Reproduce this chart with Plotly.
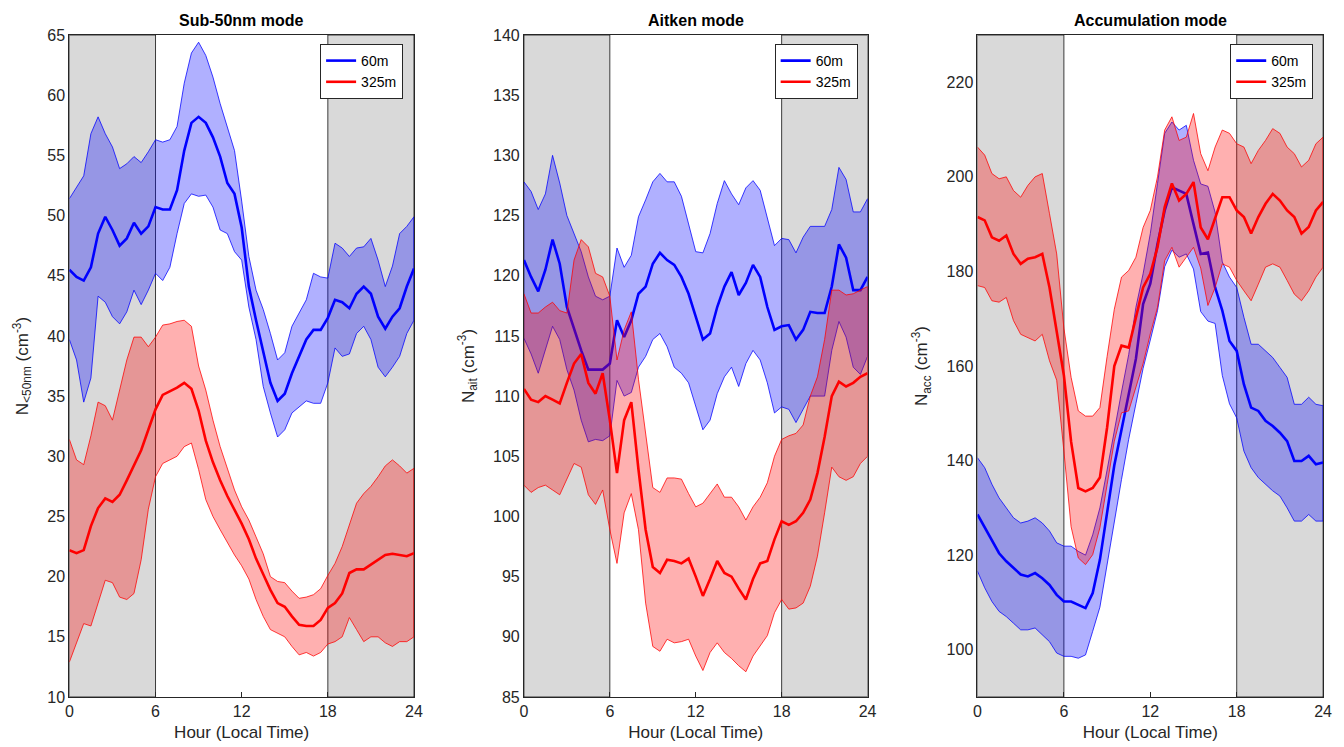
import plotly.graph_objects as go

# Local hour of day, half-hourly
HOURS = [0.0, 0.5, 1.0, 1.5, 2.0, 2.5, 3.0, 3.5, 4.0, 4.5, 5.0, 5.5,
         6.0, 6.5, 7.0, 7.5, 8.0, 8.5, 9.0, 9.5, 10.0, 10.5, 11.0, 11.5,
         12.0, 12.5, 13.0, 13.5, 14.0, 14.5, 15.0, 15.5, 16.0, 16.5, 17.0, 17.5,
         18.0, 18.5, 19.0, 19.5, 20.0, 20.5, 21.0, 21.5, 22.0, 22.5, 23.0, 23.5, 24.0]

# ---- Sub-50nm mode ----
SUB50_60M_MEAN = [45.5, 44.9, 44.6, 45.7, 48.5, 49.9, 48.8, 47.5, 48.1, 49.4, 48.5, 49.1,
                  50.7, 50.5, 50.5, 52.1, 55.4, 57.7, 58.2, 57.7, 56.5, 54.9, 52.7, 51.8,
                  49.0, 44.1, 41.3, 38.6, 36.1, 34.6, 35.2, 36.9, 38.3, 39.7, 40.5, 40.5,
                  41.5, 43.0, 42.8, 42.3, 43.5, 44.1, 43.5, 41.6, 40.6, 41.6, 42.3, 44.1, 45.6]
SUB50_60M_UPPER = [51.4, 52.4, 53.3, 56.8, 58.2, 56.8, 55.7, 53.9, 54.3, 54.9, 54.4, 55.3,
                   56.3, 56.1, 56.3, 57.4, 61.0, 63.5, 64.4, 63.3, 61.5, 59.3, 57.3, 55.4,
                   51.2, 46.6, 43.8, 42.2, 40.2, 38.0, 38.6, 40.8, 41.9, 43.0, 45.2, 44.9,
                   44.8, 47.7, 47.3, 46.6, 47.3, 47.4, 48.1, 46.3, 44.1, 45.8, 48.5, 49.1, 49.9]
SUB50_60M_LOWER = [39.7, 38.0, 34.5, 36.5, 43.3, 42.8, 41.6, 41.0, 42.0, 43.8, 42.6, 43.8,
                   45.2, 44.6, 45.7, 48.5, 51.0, 51.8, 51.6, 51.7, 50.7, 48.8, 48.5, 47.0,
                   46.3, 42.4, 39.7, 35.8, 33.6, 31.6, 32.2, 33.6, 34.1, 34.6, 34.4, 34.4,
                   36.1, 39.0, 38.3, 38.5, 40.2, 40.8, 39.7, 37.4, 36.6, 37.4, 38.3, 40.2, 41.3]
SUB50_325M_MEAN = [22.2, 21.95, 22.2, 24.2, 25.7, 26.5, 26.2, 26.8, 28.0, 29.3, 30.5, 32.2,
                   33.9, 35.1, 35.4, 35.7, 36.1, 35.6, 33.8, 31.3, 29.5, 28.0, 26.7, 25.6,
                   24.4, 23.1, 21.5, 20.2, 18.9, 17.8, 17.5, 16.7, 16.0, 15.9, 15.9, 16.4,
                   17.4, 17.8, 18.6, 20.3, 20.6, 20.6, 21.0, 21.4, 21.8, 21.9, 21.8, 21.7, 21.95]
SUB50_325M_UPPER = [31.4, 29.7, 29.3, 31.7, 34.5, 34.2, 33.0, 35.5, 38.0, 39.9, 39.9, 39.1,
                    39.9, 40.9, 41.0, 41.2, 41.3, 40.8, 37.5, 35.5, 33.0, 30.8, 28.9, 27.2,
                    25.8, 24.7, 23.3, 21.9, 20.0, 19.6, 19.5, 18.8, 18.2, 18.3, 18.5, 19.0,
                    20.1, 21.1, 22.5, 24.4, 26.1, 26.9, 27.5, 28.3, 29.2, 29.7, 29.2, 28.6, 29.0]
SUB50_325M_LOWER = [12.9, 14.5, 16.1, 15.9, 17.8, 19.7, 19.5, 18.3, 18.1, 18.6, 21.4, 25.6,
                    28.3, 29.4, 29.7, 30.0, 30.8, 31.1, 28.9, 26.4, 25.0, 23.9, 22.8, 21.8,
                    20.9, 19.8, 18.1, 16.7, 15.6, 15.3, 15.0, 14.2, 13.5, 13.7, 13.4, 13.7,
                    14.4, 14.6, 15.0, 16.6, 15.6, 14.6, 15.0, 15.0, 14.5, 14.2, 14.6, 14.6, 15.0]

# ---- Aitken mode ----
AIT_60M_MEAN = [121.3, 119.9, 118.7, 120.5, 123.0, 121.0, 117.4, 115.5, 113.8, 112.2, 112.2, 112.2,
                112.7, 116.3, 114.9, 116.3, 118.5, 119.1, 121.0, 121.9, 121.3, 120.9, 119.9, 118.5,
                116.6, 114.7, 115.2, 117.4, 119.1, 120.3, 118.4, 119.4, 120.9, 119.9, 117.4, 115.5,
                115.8, 115.9, 114.7, 115.5, 117.0, 116.9, 116.9, 119.1, 122.6, 121.5, 118.8, 118.8, 119.9]
AIT_60M_UPPER = [127.8, 127.0, 125.5, 126.8, 130.0, 127.7, 125.0, 123.5, 122.0, 119.9, 118.3, 118.0,
                 118.3, 122.3, 120.7, 121.7, 124.9, 126.3, 127.8, 128.5, 127.8, 127.8, 126.6, 124.3,
                 122.0, 121.9, 123.5, 126.0, 127.9, 126.8, 125.9, 127.3, 127.9, 127.1, 124.9, 122.5,
                 123.1, 123.0, 121.9, 123.2, 124.1, 124.1, 124.1, 125.5, 129.0, 128.0, 125.3, 125.3, 126.4]
AIT_60M_LOWER = [114.8, 113.5, 111.9, 113.8, 115.8, 114.7, 112.2, 110.5, 108.0, 106.2, 106.4, 106.3,
                 106.7, 111.3, 110.0, 110.3, 112.4, 113.3, 114.7, 115.2, 114.1, 112.4, 111.9, 111.1,
                 109.2, 107.2, 108.0, 110.2, 111.6, 112.4, 110.8, 112.7, 113.8, 113.0, 111.1, 108.6,
                 109.1, 108.9, 107.8, 108.9, 110.0, 110.0, 110.0, 113.8, 116.2, 114.9, 112.4, 111.8, 113.3]
AIT_325M_MEAN = [110.6, 109.7, 109.5, 110.0, 109.7, 109.4, 111.1, 112.7, 113.5, 111.1, 110.2, 111.9,
                 108.0, 103.6, 108.0, 109.5, 103.9, 98.9, 95.8, 95.3, 96.4, 96.3, 96.1, 96.5,
                 95.0, 93.4, 94.8, 96.3, 95.3, 95.0, 94.0, 93.1, 94.8, 96.1, 96.3, 98.1,
                 99.6, 99.3, 99.6, 100.3, 101.4, 103.6, 106.6, 110.0, 111.2, 110.8, 111.1, 111.6, 111.9]
AIT_325M_UPPER = [118.5, 116.9, 116.9, 117.4, 117.8, 117.1, 116.9, 121.3, 123.0, 122.4, 120.2, 119.9,
                  118.3, 113.0, 115.5, 117.0, 111.4, 106.7, 102.4, 102.0, 103.2, 103.2, 103.1, 101.9,
                  100.8, 101.1, 101.9, 102.7, 101.6, 101.6, 100.8, 99.7, 100.8, 101.6, 102.8, 105.0,
                  106.4, 106.7, 106.9, 107.6, 110.0, 111.6, 114.7, 118.8, 118.8, 118.4, 118.5, 118.8, 119.1]
AIT_325M_LOWER = [102.6, 102.0, 102.4, 102.6, 102.2, 101.8, 103.1, 104.4, 104.1, 101.8, 101.0, 102.2,
                  98.9, 96.1, 100.3, 101.9, 98.9, 92.8, 89.2, 88.8, 89.8, 89.5, 89.6, 89.8,
                  88.4, 87.2, 88.7, 89.5, 88.7, 88.2, 87.6, 87.1, 88.4, 89.2, 90.1, 92.0,
                  93.1, 92.3, 92.4, 92.8, 94.2, 96.7, 100.3, 104.1, 103.3, 103.0, 103.3, 104.4, 105.0]

# ---- Accumulation mode ----
ACC_60M_MEAN = [128.6, 125.8, 122.9, 120.4, 118.7, 117.2, 115.9, 115.5, 116.2, 115.1, 113.7, 111.6,
                110.2, 110.2, 109.5, 108.8, 112.0, 119.0, 129.0, 139.0, 146.5, 154.0, 161.5, 173.1,
                177.4, 185.8, 192.9, 197.8, 197.1, 196.4, 190.0, 183.7, 184.0, 176.6, 171.7, 165.3,
                163.2, 156.1, 151.2, 150.5, 148.4, 147.3, 145.9, 144.1, 139.9, 139.9, 141.0, 139.2, 139.6]
ACC_60M_UPPER = [140.6, 138.5, 135.0, 132.1, 130.0, 127.9, 126.8, 127.2, 127.9, 126.8, 125.1, 122.6,
                 121.9, 121.9, 120.8, 120.0, 124.3, 130.0, 138.0, 146.5, 154.5, 162.4, 172.4, 179.5,
                 188.0, 198.6, 209.2, 211.6, 209.9, 210.9, 203.5, 198.5, 198.0, 192.5, 182.0, 178.8,
                 176.6, 170.3, 164.6, 164.6, 163.2, 161.8, 159.7, 157.6, 151.9, 151.9, 153.4, 151.9, 151.6]
ACC_60M_LOWER = [116.6, 113.1, 110.2, 108.1, 107.0, 105.6, 104.2, 104.2, 104.6, 103.1, 101.7, 99.3,
                 98.6, 98.6, 98.2, 98.9, 103.9, 109.0, 117.5, 127.0, 136.0, 144.5, 152.0, 159.5,
                 165.5, 171.7, 181.0, 184.5, 183.0, 183.7, 180.5, 171.5, 169.5, 169.0, 158.0, 152.0,
                 149.0, 142.0, 138.5, 136.4, 135.0, 133.6, 132.5, 130.0, 127.2, 127.2, 128.6, 127.2, 127.2]
ACC_325M_MEAN = [191.5, 190.8, 187.2, 186.5, 187.6, 183.7, 181.6, 182.7, 183.0, 183.7, 176.6, 167.5,
                 158.0, 144.0, 134.2, 133.5, 134.2, 136.4, 147.0, 160.0, 164.3, 163.9, 170.3, 176.6,
                 179.5, 185.1, 193.6, 198.6, 195.0, 196.4, 198.9, 189.3, 186.8, 191.5, 195.7, 195.7,
                 192.9, 191.5, 188.0, 191.5, 194.3, 196.4, 195.0, 192.9, 191.5, 188.0, 189.4, 192.9, 194.7]
ACC_325M_UPPER = [206.3, 204.6, 200.7, 199.6, 200.0, 197.1, 195.7, 198.2, 200.0, 200.7, 192.2, 183.7,
                  168.0, 157.6, 150.5, 149.4, 149.4, 151.2, 162.0, 172.0, 178.8, 180.2, 183.0, 189.3,
                  192.9, 200.0, 209.9, 212.7, 207.7, 208.4, 213.4, 204.9, 201.3, 206.3, 209.9, 209.2,
                  207.0, 206.3, 202.8, 205.6, 207.7, 210.2, 209.2, 206.3, 204.9, 202.1, 203.5, 207.0, 208.4]
ACC_325M_LOWER = [177.0, 176.6, 173.8, 173.5, 174.5, 169.6, 166.7, 166.0, 165.3, 166.7, 161.1, 157.0,
                  142.0, 126.0, 119.4, 118.0, 120.1, 125.8, 134.9, 144.1, 150.1, 150.5, 155.4, 160.5,
                  166.8, 172.4, 182.3, 185.1, 180.9, 183.0, 185.1, 180.7, 172.8, 176.6, 181.6, 180.9,
                  178.1, 175.9, 173.8, 177.3, 180.9, 181.6, 180.9, 178.1, 175.2, 173.8, 175.9, 178.8, 180.9]

PANEL_TITLES = ["Sub-50nm mode", "Aitken mode", "Accumulation mode"]
Y_TITLES = ["N<sub>&lt;50nm</sub> (cm<sup>-3</sup>)",
            "N<sub>ait</sub> (cm<sup>-3</sup>)",
            "N<sub>acc</sub> (cm<sup>-3</sup>)"]
Y_RANGES = [[10, 65], [85, 140], [90, 230]]
Y_TICKS = [[10, 15, 20, 25, 30, 35, 40, 45, 50, 55, 60, 65],
           [85, 90, 95, 100, 105, 110, 115, 120, 125, 130, 135, 140],
           [100, 120, 140, 160, 180, 200, 220]]
X_TICKS = [0, 6, 12, 18, 24]
SERIES_NAMES = ["60m", "325m"]
NIGHT_SPANS = [(0, 6), (18, 24)]

PANELS = [
    ((SUB50_60M_MEAN, SUB50_60M_UPPER, SUB50_60M_LOWER),
     (SUB50_325M_MEAN, SUB50_325M_UPPER, SUB50_325M_LOWER)),
    ((AIT_60M_MEAN, AIT_60M_UPPER, AIT_60M_LOWER),
     (AIT_325M_MEAN, AIT_325M_UPPER, AIT_325M_LOWER)),
    ((ACC_60M_MEAN, ACC_60M_UPPER, ACC_60M_LOWER),
     (ACC_325M_MEAN, ACC_325M_UPPER, ACC_325M_LOWER)),
]

W, H = 1344, 747
M_TOP, M_BOT = 35, 50
PLOT_H = H - M_TOP - M_BOT
X_PIX = [(66, 414), (525, 872), (983, 1332)]
LEGEND_RIGHT = [403, 862, 1322]

FONT = "Liberation Sans, Arial, Helvetica, sans-serif"
TXT = "#262626"
LINE_RGB = ["0,0,255", "255,0,0"]

fig = go.Figure()
shapes = []
annotations = []

for i, (panel, (px0, px1)) in enumerate(zip(PANELS, X_PIX)):
    sfx = "" if i == 0 else str(i + 1)
    xa, ya = "x" + sfx, "y" + sfx
    leg = "legend" + sfx

    for j, (mean, upper, lower) in enumerate(panel):
        rgb = LINE_RGB[j]
        # shaded spread band: upper edge forward, lower edge back
        fig.add_trace(go.Scatter(
            x=HOURS + HOURS[::-1], y=upper + lower[::-1],
            fill="toself", fillcolor=f"rgba({rgb},0.31)",
            line=dict(color=f"rgba({rgb},0.85)", width=0.9),
            mode="lines", hoverinfo="skip", showlegend=False,
            xaxis=xa, yaxis=ya))
        fig.add_trace(go.Scatter(
            x=HOURS, y=mean, mode="lines",
            line=dict(color=f"rgb({rgb})", width=2.6),
            name=SERIES_NAMES[j], legend=leg, showlegend=True,
            xaxis=xa, yaxis=ya))

    for (a, b) in NIGHT_SPANS:
        shapes.append(dict(type="rect", xref=xa, yref=f"{ya} domain",
                           x0=a, x1=b, y0=0, y1=1, layer="below",
                           fillcolor="#d9d9d9",
                           line=dict(color="rgba(0,0,0,0.75)", width=1)))

    dom = [px0 / W, px1 / W]
    axis_common = dict(showline=True, mirror=True, linecolor=TXT, linewidth=1,
                       showgrid=False, zeroline=False,
                       tickfont=dict(family=FONT, size=16, color=TXT))
    fig.update_layout(**{
        "xaxis" + sfx: dict(domain=dom, range=[0, 24], tickvals=X_TICKS,
                            ticks="inside", ticklen=5, tickcolor=TXT,
                            title=dict(text="Hour (Local Time)",
                                       font=dict(family=FONT, size=17, color=TXT),
                                       standoff=6),
                            anchor=ya, **axis_common),
        "yaxis" + sfx: dict(domain=[0, 1], range=Y_RANGES[i], tickvals=Y_TICKS[i],
                            ticks="",
                            title=dict(text=Y_TITLES[i],
                                       font=dict(family=FONT, size=17, color=TXT),
                                       standoff=14),
                            anchor=xa, **axis_common),
        leg: dict(x=LEGEND_RIGHT[i] / W, xanchor="right",
                  y=1 - 9 / PLOT_H, yanchor="top",
                  bgcolor="white", bordercolor="#262626", borderwidth=1,
                  font=dict(family=FONT, size=14, color="black"),
                  tracegroupgap=0, itemwidth=30),
    })

    annotations.append(dict(text=f"<b>{PANEL_TITLES[i]}</b>", xref="paper", yref="paper",
                            x=(dom[0] + dom[1]) / 2, y=1 + 15 / PLOT_H,
                            xanchor="center", yanchor="middle", showarrow=False,
                            font=dict(family=FONT, size=16, color="black")))

fig.update_layout(
    width=W, height=H,
    margin=dict(l=0, r=0, t=M_TOP, b=M_BOT),
    paper_bgcolor="white", plot_bgcolor="white",
    shapes=shapes, annotations=annotations,
    font=dict(family=FONT, color=TXT),
)

fig.write_html("out.html")
